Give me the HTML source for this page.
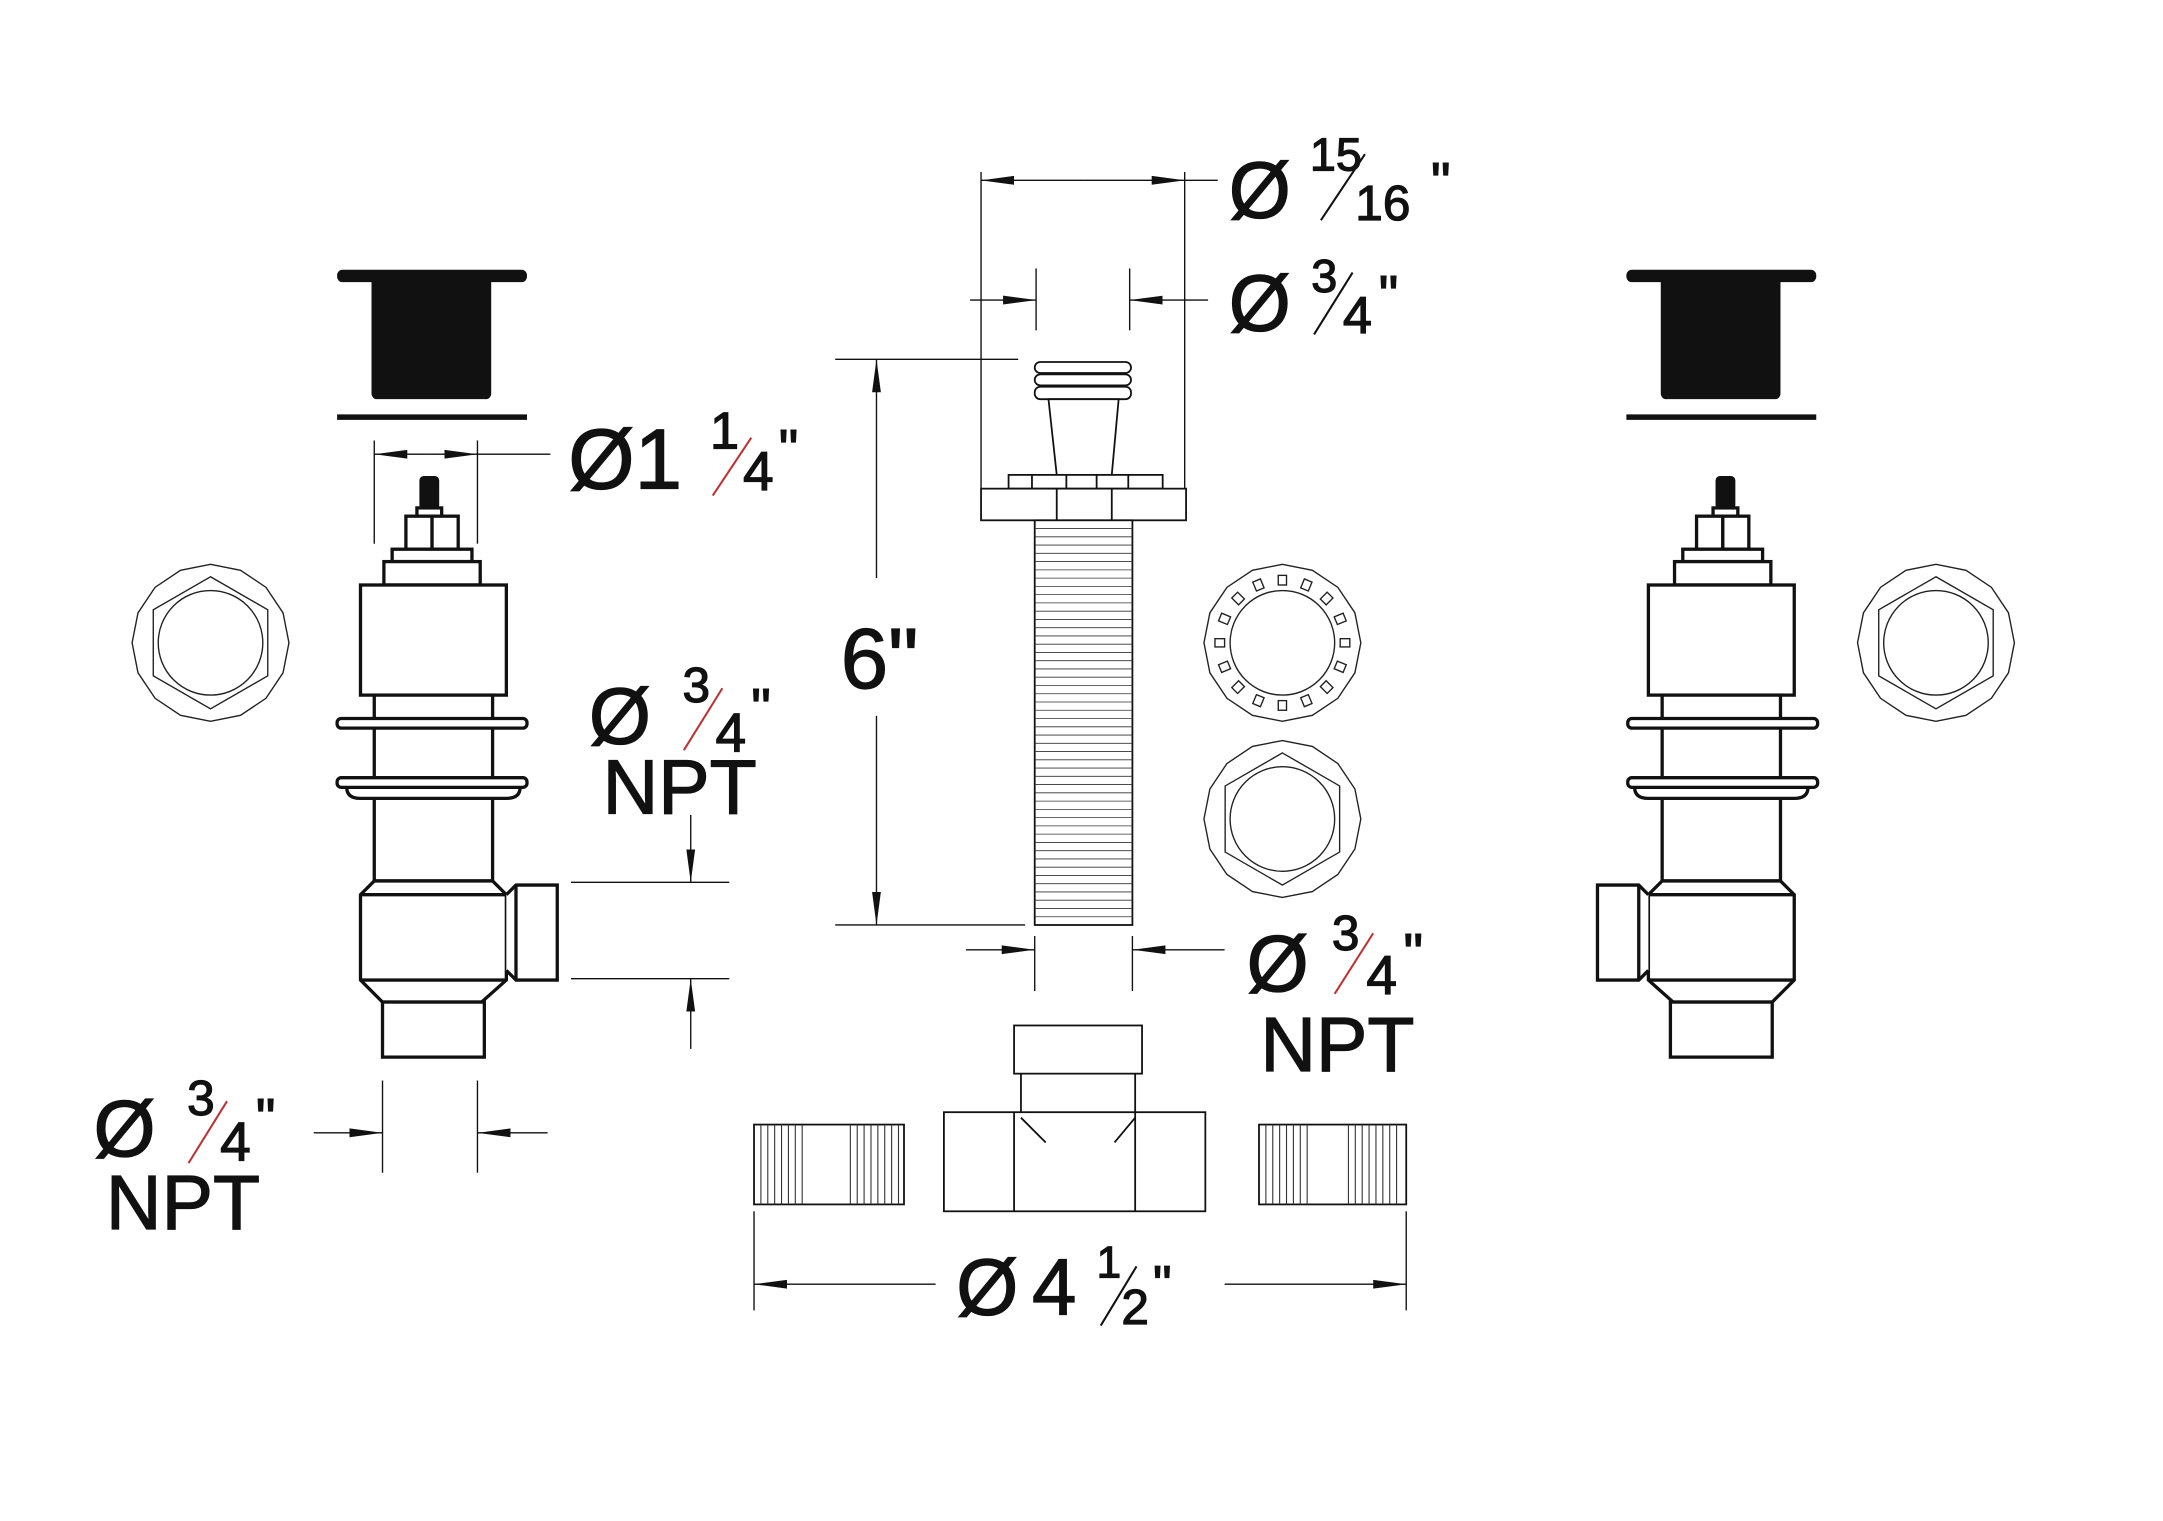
<!DOCTYPE html>
<html><head><meta charset="utf-8"><style>
html,body{margin:0;padding:0;background:#fff;}
svg{display:block;}
text{font-family:"Liberation Sans",Arial,sans-serif;fill:#111;stroke:#111;stroke-width:0.9;}
</style></head><body>
<svg width="2163" height="1521" viewBox="0 0 1572 1105" preserveAspectRatio="none" xmlns="http://www.w3.org/2000/svg">
<defs>
<marker id="a" viewBox="0 0 24 8" refX="24" refY="4" markerWidth="24" markerHeight="8" markerUnits="userSpaceOnUse" orient="auto"><path d="M0,0.8 L24,4 L0,7.2 Z" fill="#111"/></marker>
<g id="valve" fill="#fff" stroke="#111" stroke-width="2.4">
 <rect x="306" y="347" width="12" height="22" rx="2" fill="#111"/>
 <rect x="303" y="369" width="18" height="6"/>
 <rect x="295" y="375" width="19" height="24"/>
 <rect x="314" y="375" width="19" height="24"/>
 <rect x="285" y="399" width="58" height="9"/>
 <rect x="279" y="408" width="70" height="17"/>
 <rect x="262" y="425" width="106" height="80"/>
 <rect x="272" y="505" width="86" height="135"/>
 <rect x="245" y="522" width="138" height="7" rx="3"/>
 <path d="M252,572 Q252,580 262,580 L368,580 Q378,580 378,572"/>
 <rect x="245" y="565" width="138" height="7" rx="3"/>
 <path d="M272,640 L262,650 L262,712 L278,728 L350,728 L368,712 L368,650 L358,640 Z"/>
 <line x1="262" y1="650" x2="368" y2="650"/>
 <line x1="262" y1="712" x2="368" y2="712"/>
 <path d="M368,650 L375,643 L405,643 L405,712 L375,712 L368,705"/>
 <line x1="375" y1="643" x2="375" y2="712"/>
 <rect x="278" y="728" width="74" height="40"/>
</g>
<g id="hex" fill="none" stroke="#222" stroke-width="1">
 <polygon points="57,0 52.7,21.8 40.3,40.3 21.8,52.7 0,57 -21.8,52.7 -40.3,40.3 -52.7,21.8 -57,0 -52.7,-21.8 -40.3,-40.3 -21.8,-52.7 0,-57 21.8,-52.7 40.3,-40.3 52.7,-21.8"/>
 <polygon points="0,-48 41.6,-24 41.6,24 0,48 -41.6,24 -41.6,-24"/>
 <circle r="38"/>
</g>
<g id="cap">
 <rect x="245" y="196" width="138" height="9" rx="4" fill="#111"/>
 <rect x="270" y="200" width="87" height="90" rx="4" fill="#111"/>
 <line x1="245" y1="303" x2="383" y2="303" stroke="#111" stroke-width="4"/>
</g>
</defs>

<use href="#cap"/>
<use href="#valve"/>
<use href="#hex" transform="translate(153,467)"/>
<use href="#cap" transform="translate(937,0)"/>
<use href="#valve" transform="translate(1566,0) scale(-1,1)"/>
<use href="#hex" transform="translate(1407,467)"/>

<g stroke="#111" stroke-width="1" fill="none">
 <line x1="272" y1="320" x2="272" y2="395"/><line x1="347" y1="320" x2="347" y2="395"/>
 <line x1="310" y1="330" x2="272" y2="330" marker-end="url(#a)"/>
 <line x1="310" y1="330" x2="347" y2="330" marker-end="url(#a)"/>
 <line x1="347" y1="330" x2="400" y2="330"/>
 <line x1="415" y1="641" x2="530" y2="641"/><line x1="415" y1="711" x2="530" y2="711"/>
 <line x1="502" y1="592" x2="502" y2="641" marker-end="url(#a)"/>
 <line x1="502" y1="762" x2="502" y2="711" marker-end="url(#a)"/>
 <line x1="278" y1="785" x2="278" y2="852"/><line x1="347" y1="785" x2="347" y2="852"/>
 <line x1="228" y1="823" x2="278" y2="823" marker-end="url(#a)"/>
 <line x1="398" y1="823" x2="347" y2="823" marker-end="url(#a)"/>
 <line x1="713" y1="125" x2="713" y2="355"/><line x1="861" y1="125" x2="861" y2="355"/>
 <line x1="787" y1="131" x2="713" y2="131" marker-end="url(#a)"/>
 <line x1="787" y1="131" x2="861" y2="131" marker-end="url(#a)"/>
 <line x1="861" y1="131" x2="885" y2="131"/>
 <line x1="753" y1="195" x2="753" y2="240"/><line x1="821" y1="195" x2="821" y2="240"/>
 <line x1="705" y1="218" x2="753" y2="218" marker-end="url(#a)"/>
 <line x1="878" y1="218" x2="821" y2="218" marker-end="url(#a)"/>
 <line x1="607" y1="261" x2="740" y2="261"/><line x1="607" y1="672" x2="745" y2="672"/>
 <line x1="637" y1="420" x2="637" y2="261" marker-end="url(#a)"/>
 <line x1="637" y1="520" x2="637" y2="672" marker-end="url(#a)"/>
 <line x1="752" y1="680" x2="752" y2="720"/><line x1="823" y1="680" x2="823" y2="720"/>
 <line x1="702" y1="690" x2="752" y2="690" marker-end="url(#a)"/>
 <line x1="890" y1="690" x2="823" y2="690" marker-end="url(#a)"/>
 <line x1="548" y1="880" x2="548" y2="952"/><line x1="1022" y1="880" x2="1022" y2="952"/>
 <line x1="680" y1="933" x2="548" y2="933" marker-end="url(#a)"/>
 <line x1="890" y1="933" x2="1022" y2="933" marker-end="url(#a)"/>
</g>

<g fill="#fff" stroke="#111" stroke-width="1.3">
 <rect x="752" y="263" width="70" height="8" rx="4"/>
 <rect x="752" y="272" width="70" height="8" rx="4"/>
 <rect x="752" y="281" width="70" height="9" rx="4"/>
 <path d="M762,290 L813,290 L808,345 L768,345 Z"/>
 <rect x="733" y="345" width="112" height="10"/>
 <path d="M750,345 V355 M775,345 V355 M797,345 V355 M820,345 V355"/>
 <rect x="713" y="355" width="149" height="23"/>
 <path d="M768,355 V378 M808,355 V378"/>
 <rect x="752" y="378" width="71" height="294"/>
</g>
<g stroke="#333" stroke-width="0.6">
 <path d="M752,384H823M752,390H823M752,396H823M752,402H823M752,408H823M752,414H823M752,420H823M752,426H823M752,432H823M752,438H823M752,444H823M752,450H823M752,456H823M752,462H823M752,468H823M752,474H823M752,480H823M752,486H823M752,492H823M752,498H823M752,504H823M752,510H823M752,516H823M752,522H823M752,528H823M752,534H823M752,540H823M752,546H823M752,552H823M752,558H823M752,564H823M752,570H823M752,576H823M752,582H823M752,588H823M752,594H823M752,600H823M752,606H823M752,612H823M752,618H823M752,624H823M752,630H823M752,636H823M752,642H823M752,648H823M752,654H823M752,660H823M752,666H823"/>
</g>

<g fill="#fff" stroke="#111" stroke-width="1.3">
 <rect x="737" y="745" width="93" height="35"/>
 <rect x="686" y="808" width="190" height="72"/>
 <path d="M737,808V880M825,808V880M742,780V808M825,780V808M742,812L760,830M825,812L810,830"/>
 <rect x="548" y="817" width="109" height="58"/>
 <rect x="915" y="817" width="107" height="58"/>
</g>
<g stroke="#333" stroke-width="0.8">
 <path d="M553,817V875M558,817V875M563,817V875M568,817V875M573,817V875M578,817V875M583,817V875M618,817V875M623,817V875M628,817V875M633,817V875M638,817V875M643,817V875M648,817V875M653,817V875"/>
 <path d="M920,817V875M925,817V875M930,817V875M935,817V875M940,817V875M945,817V875M950,817V875M980,817V875M985,817V875M990,817V875M995,817V875M1000,817V875M1005,817V875M1010,817V875M1015,817V875"/>
</g>

<g transform="translate(932,467)" fill="none" stroke="#222" stroke-width="1">
 <polygon points="57,0 52.7,21.8 40.3,40.3 21.8,52.7 0,57 -21.8,52.7 -40.3,40.3 -52.7,21.8 -57,0 -52.7,-21.8 -40.3,-40.3 -21.8,-52.7 0,-57 21.8,-52.7 40.3,-40.3 52.7,-21.8"/>
 <circle r="38"/>
 <g>
  <rect x="-3" y="-49" width="6" height="7" transform="rotate(0)"/>
  <rect x="-3" y="-49" width="6" height="7" transform="rotate(22.5)"/>
  <rect x="-3" y="-49" width="6" height="7" transform="rotate(45)"/>
  <rect x="-3" y="-49" width="6" height="7" transform="rotate(67.5)"/>
  <rect x="-3" y="-49" width="6" height="7" transform="rotate(90)"/>
  <rect x="-3" y="-49" width="6" height="7" transform="rotate(112.5)"/>
  <rect x="-3" y="-49" width="6" height="7" transform="rotate(135)"/>
  <rect x="-3" y="-49" width="6" height="7" transform="rotate(157.5)"/>
  <rect x="-3" y="-49" width="6" height="7" transform="rotate(180)"/>
  <rect x="-3" y="-49" width="6" height="7" transform="rotate(202.5)"/>
  <rect x="-3" y="-49" width="6" height="7" transform="rotate(225)"/>
  <rect x="-3" y="-49" width="6" height="7" transform="rotate(247.5)"/>
  <rect x="-3" y="-49" width="6" height="7" transform="rotate(270)"/>
  <rect x="-3" y="-49" width="6" height="7" transform="rotate(292.5)"/>
  <rect x="-3" y="-49" width="6" height="7" transform="rotate(315)"/>
  <rect x="-3" y="-49" width="6" height="7" transform="rotate(337.5)"/>
 </g>
</g>
<use href="#hex" transform="translate(932,595)"/>

<g stroke="#b33" stroke-width="1.5">
 <line x1="518" y1="360" x2="546" y2="318"/>
 <line x1="497" y1="545" x2="525" y2="500"/>
 <line x1="137" y1="845" x2="165" y2="800"/>
 <line x1="970" y1="722" x2="998" y2="678"/>
</g>
<g stroke="#111" stroke-width="1.5">
 <line x1="960" y1="160" x2="992" y2="112"/>
 <line x1="955" y1="243" x2="983" y2="198"/>
 <line x1="800" y1="963" x2="826" y2="920"/>
</g>
<text x="413" y="355" font-size="62">Ø1</text>
<text x="516" y="326" font-size="38">1</text><text x="540" y="356" font-size="40">4</text><text x="566" y="340" font-size="40">"</text>

<text x="428" y="540" font-size="58">Ø</text>
<text x="496" y="510" font-size="36">3</text><text x="520" y="546" font-size="40">4</text><text x="546" y="528" font-size="40">"</text>
<text x="438" y="591" font-size="56">NPT</text>

<text x="68" y="840" font-size="58">Ø</text>
<text x="136" y="810" font-size="36">3</text><text x="160" y="843" font-size="40">4</text><text x="186" y="826" font-size="40">"</text>
<text x="77" y="893" font-size="56">NPT</text>

<text x="893" y="158" font-size="58">Ø</text>
<text x="952" y="124" font-size="34">15</text><text x="985" y="160" font-size="36">16</text><text x="1040" y="146" font-size="40">"</text>

<text x="893" y="240" font-size="58">Ø</text>
<text x="953" y="212" font-size="34">3</text><text x="976" y="242" font-size="38">4</text><text x="1002" y="228" font-size="40">"</text>

<text x="611" y="500" font-size="62">6"</text>

<text x="906" y="720" font-size="58">Ø</text>
<text x="968" y="690" font-size="36">3</text><text x="993" y="722" font-size="40">4</text><text x="1020" y="706" font-size="40">"</text>
<text x="916" y="778" font-size="56">NPT</text>

<text x="695" y="955" font-size="58">Ø</text>
<text x="750" y="955" font-size="58">4</text>
<text x="797" y="928" font-size="32">1</text><text x="815" y="962" font-size="36">2</text><text x="838" y="946" font-size="38">"</text>
</svg>
</body></html>
